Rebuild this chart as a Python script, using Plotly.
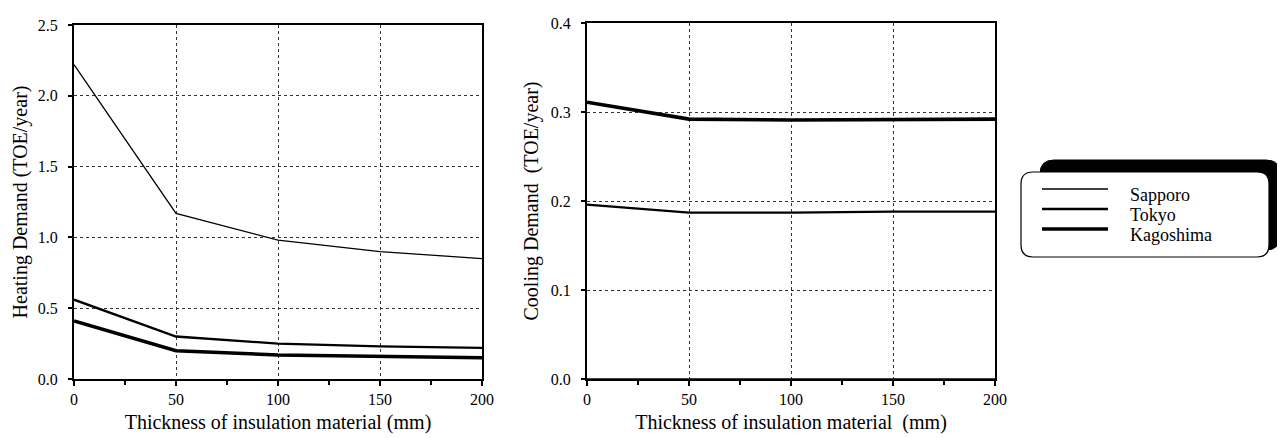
import plotly.graph_objects as go

# ---- data ----
thickness = [0, 50, 100, 150, 200]
cities = ["Sapporo", "Tokyo", "Kagoshima"]
heat_sapporo = [2.22, 1.17, 0.98, 0.90, 0.85]
heat_tokyo = [0.56, 0.30, 0.25, 0.23, 0.22]
heat_kagoshima = [0.41, 0.20, 0.17, 0.16, 0.15]
cool_sapporo = [0.0, 0.0, 0.0, 0.0, 0.0]
cool_tokyo = [0.196, 0.187, 0.187, 0.188, 0.188]
cool_kagoshima = [0.311, 0.292, 0.291, 0.292, 0.292]
heat_ticks = [0.0, 0.5, 1.0, 1.5, 2.0, 2.5]
cool_ticks = [0.0, 0.1, 0.2, 0.3, 0.4]
x_ticks = [0, 50, 100, 150, 200]

OFF = 8  # page body margin
W, H = 1285 - OFF, 438 - OFF
ML, MR, MT, MB = 66, 290, 15, 59
PW, PH = W - ML - MR, H - MT - MB

def px(x):  # screen x -> paper
    return (x - OFF - ML) / PW

def py(y):  # screen y -> paper
    return (H - MB - (y - OFF)) / PH

widths = {"Sapporo": 1.3, "Tokyo": 2.3, "Kagoshima": 3.6}
FONT = "Liberation Serif"

fig = go.Figure()
heat = {"Sapporo": heat_sapporo, "Tokyo": heat_tokyo, "Kagoshima": heat_kagoshima}
cool = {"Sapporo": cool_sapporo, "Tokyo": cool_tokyo, "Kagoshima": cool_kagoshima}
for c in cities:
    fig.add_trace(go.Scatter(x=thickness, y=heat[c], mode="lines", name=c,
                             line=dict(color="black", width=widths[c]),
                             xaxis="x", yaxis="y", legendgroup=c, showlegend=False))
for c in cities:
    fig.add_trace(go.Scatter(x=thickness, y=cool[c], mode="lines", name=c,
                             line=dict(color="black", width=widths[c]),
                             xaxis="x2", yaxis="y2", legendgroup=c, showlegend=False))

xcommon = dict(range=[0, 200], tickvals=x_ticks, ticks="outside", ticklen=5, tickwidth=1.5,
               tickcolor="black", showline=True, linecolor="black", linewidth=2, mirror=True,
               showgrid=True, gridcolor="#333", griddash="dot", gridwidth=1, zeroline=False,
               tickfont=dict(family=FONT, size=16, color="black"),
               minor=dict(dtick=25, ticks="outside", ticklen=4, tickcolor="black", showgrid=False))
ycommon = dict(ticks="outside", ticklen=4, tickwidth=1.5, tickcolor="black",
               showline=True, linecolor="black", linewidth=2, mirror=True,
               showgrid=True, gridcolor="#333", griddash="dot", gridwidth=1, zeroline=False,
               ticklabelstandoff=7,
               tickformat=".1f", tickfont=dict(family=FONT, size=16, color="black"))

TF = dict(family=FONT, size=20, color="black")
fig.update_layout(
    width=W, height=H, margin=dict(l=ML, r=MR, t=MT, b=MB, autoexpand=False),
    paper_bgcolor="white", plot_bgcolor="white",
    font=dict(family=FONT, color="black"),
    showlegend=False,
    xaxis=dict(domain=[0, px(482)], anchor="y",
               title=dict(text="Thickness of insulation material (mm)", standoff=8, font=TF),
               **xcommon),
    yaxis=dict(domain=[0, py(25)], anchor="x", range=[0, 2.5], tickvals=heat_ticks,
               title=dict(text="Heating Demand (TOE/year)", standoff=5, font=TF), **ycommon),
    xaxis2=dict(domain=[px(587), px(995)], anchor="y2",
                title=dict(text="Thickness of insulation material\u00a0 (mm)", standoff=8, font=TF),
                **xcommon),
    yaxis2=dict(domain=[0, py(23)], anchor="x2", range=[0, 0.4], tickvals=cool_ticks,
                title=dict(text="Cooling Demand\u00a0 (TOE/year)", standoff=7, font=TF),
                **ycommon),
)

def rrect(x0, y0, x1, y1, r):
    # screen pixel box -> rounded rectangle path in paper coords
    X0, X1 = px(x0), px(x1)
    Y0, Y1 = py(y0), py(y1)
    rx, ry = r / PW, r / PH
    return (f"M {X0+rx},{Y0} L {X1-rx},{Y0} Q {X1},{Y0} {X1},{Y0-ry} "
            f"L {X1},{Y1+ry} Q {X1},{Y1} {X1-rx},{Y1} L {X0+rx},{Y1} "
            f"Q {X0},{Y1} {X0},{Y1+ry} L {X0},{Y0-ry} Q {X0},{Y0} {X0+rx},{Y0} Z")

# legend box with drop shadow
fig.add_shape(type="path", xref="paper", yref="paper", path=rrect(1040, 160, 1280, 250, 14),
              fillcolor="black", line=dict(color="black", width=1), layer="below")
fig.add_shape(type="path", xref="paper", yref="paper", path=rrect(1021, 172, 1269, 257, 12),
              fillcolor="white", line=dict(color="black", width=1.2), layer="below")

# legend entries (key line + label) for each city
row_text_y = [195, 215, 235]
for i, c in enumerate(cities):
    ly = row_text_y[i] - 6
    fig.add_shape(type="line", xref="paper", yref="paper",
                  x0=px(1042), x1=px(1108), y0=py(ly), y1=py(ly),
                  line=dict(color="black", width=widths[c]))
    fig.add_annotation(xref="paper", yref="paper", x=px(1128), y=py(row_text_y[i]),
                       xanchor="left", yanchor="middle", text=c, showarrow=False,
                       font=dict(family=FONT, size=18, color="black"))

fig.write_html("out.html")
